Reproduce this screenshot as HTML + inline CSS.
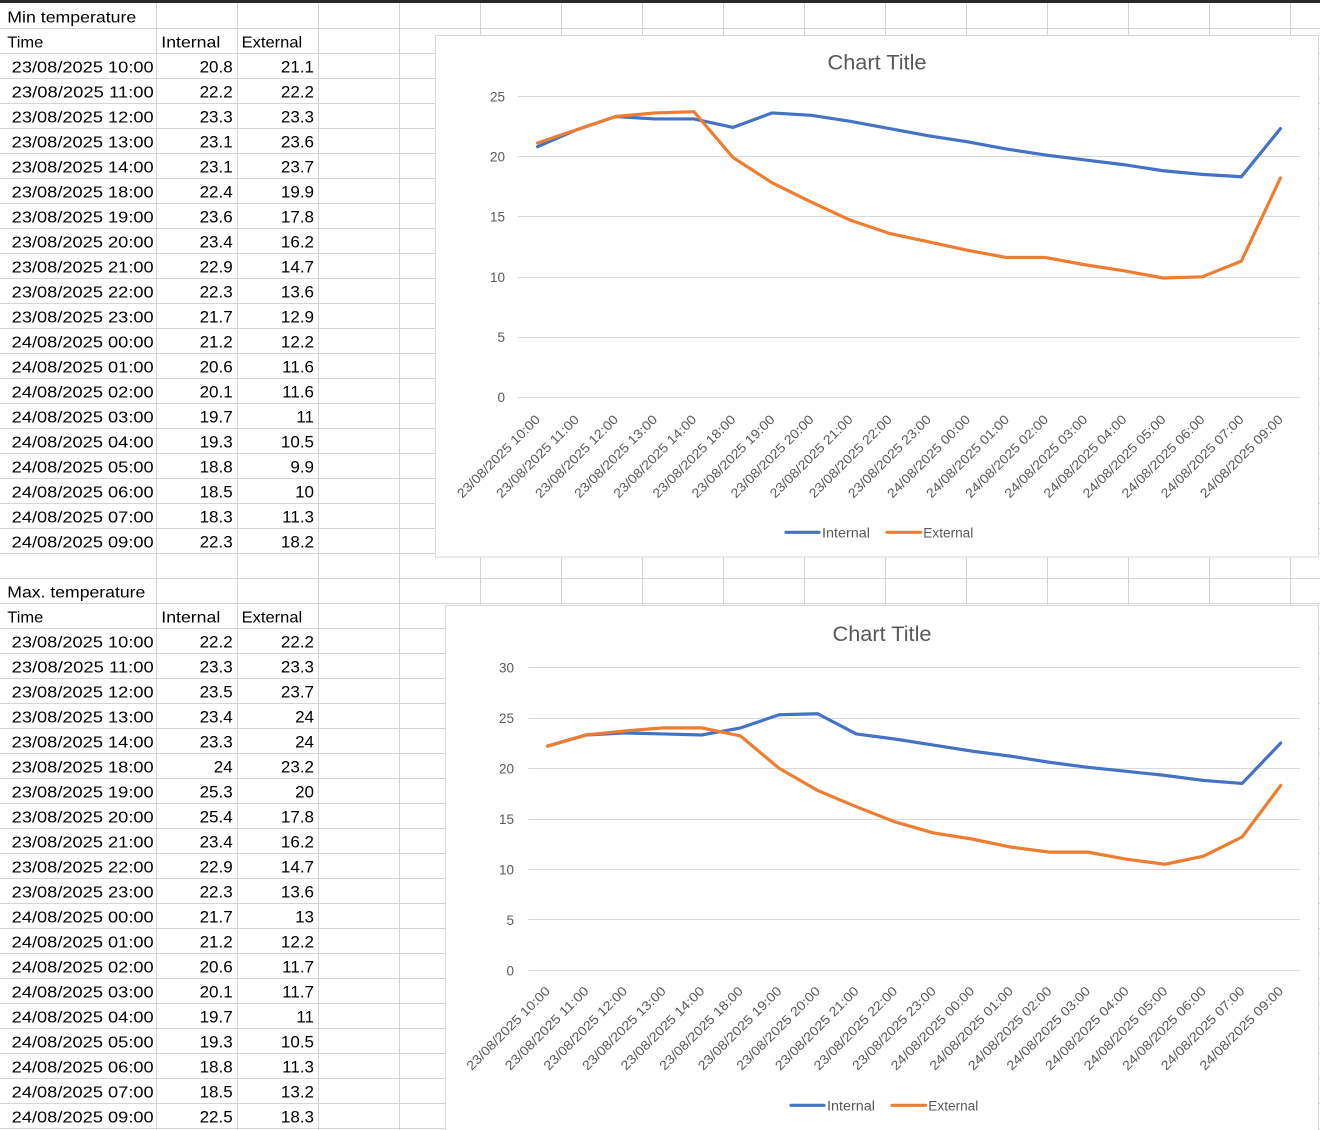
<!DOCTYPE html>
<html><head><meta charset="utf-8"><style>
html,body{margin:0;padding:0;background:#fff;overflow:hidden;}
svg{display:block;font-family:"Liberation Sans",Arial,sans-serif;}
</style></head><body>
<svg width="1320" height="1130" viewBox="0 0 1320 1130" xmlns="http://www.w3.org/2000/svg">
<defs>
<pattern id="ph" patternUnits="userSpaceOnUse" x="0" y="4" width="1320" height="25"><rect x="0" y="24" width="1320" height="1" fill="#d4d4d4"/></pattern>
<pattern id="pv" patternUnits="userSpaceOnUse" x="157" y="0" width="81" height="1130"><rect x="80" y="0" width="1" height="1130" fill="#d4d4d4"/></pattern>
</defs>
<rect x="0" y="0" width="1320" height="1130" fill="#fff"/>
<rect x="0" y="4" width="1320" height="1126" fill="url(#ph)"/>
<rect x="156" y="3" width="1164" height="1127" fill="url(#pv)"/>
<rect x="0" y="0" width="1320" height="3" fill="#2a2a2a"/>

<!-- Table text -->
<g font-size="16" fill="#000">
<text x="7.3" y="22.3" textLength="129" lengthAdjust="spacingAndGlyphs">Min temperature</text>
<text x="7.3" y="47.3" textLength="36" lengthAdjust="spacingAndGlyphs">Time</text>
<text x="161.3" y="47.3" textLength="59" lengthAdjust="spacingAndGlyphs">Internal</text>
<text x="241.7" y="47.3" textLength="60.5" lengthAdjust="spacingAndGlyphs">External</text>
<text x="7.3" y="597.3" textLength="138" lengthAdjust="spacingAndGlyphs">Max. temperature</text>
<text x="7.3" y="622.3" textLength="36" lengthAdjust="spacingAndGlyphs">Time</text>
<text x="161.3" y="622.3" textLength="59" lengthAdjust="spacingAndGlyphs">Internal</text>
<text x="241.7" y="622.3" textLength="60.5" lengthAdjust="spacingAndGlyphs">External</text>
</g>
<g font-size="16" fill="#000">
<text x="11.7" y="72.3" textLength="142" lengthAdjust="spacingAndGlyphs">23/08/2025 10:00</text>
<text x="11.7" y="97.3" textLength="142" lengthAdjust="spacingAndGlyphs">23/08/2025 11:00</text>
<text x="11.7" y="122.3" textLength="142" lengthAdjust="spacingAndGlyphs">23/08/2025 12:00</text>
<text x="11.7" y="147.3" textLength="142" lengthAdjust="spacingAndGlyphs">23/08/2025 13:00</text>
<text x="11.7" y="172.3" textLength="142" lengthAdjust="spacingAndGlyphs">23/08/2025 14:00</text>
<text x="11.7" y="197.3" textLength="142" lengthAdjust="spacingAndGlyphs">23/08/2025 18:00</text>
<text x="11.7" y="222.3" textLength="142" lengthAdjust="spacingAndGlyphs">23/08/2025 19:00</text>
<text x="11.7" y="247.3" textLength="142" lengthAdjust="spacingAndGlyphs">23/08/2025 20:00</text>
<text x="11.7" y="272.3" textLength="142" lengthAdjust="spacingAndGlyphs">23/08/2025 21:00</text>
<text x="11.7" y="297.3" textLength="142" lengthAdjust="spacingAndGlyphs">23/08/2025 22:00</text>
<text x="11.7" y="322.3" textLength="142" lengthAdjust="spacingAndGlyphs">23/08/2025 23:00</text>
<text x="11.7" y="347.3" textLength="142" lengthAdjust="spacingAndGlyphs">24/08/2025 00:00</text>
<text x="11.7" y="372.3" textLength="142" lengthAdjust="spacingAndGlyphs">24/08/2025 01:00</text>
<text x="11.7" y="397.3" textLength="142" lengthAdjust="spacingAndGlyphs">24/08/2025 02:00</text>
<text x="11.7" y="422.3" textLength="142" lengthAdjust="spacingAndGlyphs">24/08/2025 03:00</text>
<text x="11.7" y="447.3" textLength="142" lengthAdjust="spacingAndGlyphs">24/08/2025 04:00</text>
<text x="11.7" y="472.3" textLength="142" lengthAdjust="spacingAndGlyphs">24/08/2025 05:00</text>
<text x="11.7" y="497.3" textLength="142" lengthAdjust="spacingAndGlyphs">24/08/2025 06:00</text>
<text x="11.7" y="522.3" textLength="142" lengthAdjust="spacingAndGlyphs">24/08/2025 07:00</text>
<text x="11.7" y="547.3" textLength="142" lengthAdjust="spacingAndGlyphs">24/08/2025 09:00</text>

<text x="11.7" y="647.3" textLength="142" lengthAdjust="spacingAndGlyphs">23/08/2025 10:00</text>
<text x="11.7" y="672.3" textLength="142" lengthAdjust="spacingAndGlyphs">23/08/2025 11:00</text>
<text x="11.7" y="697.3" textLength="142" lengthAdjust="spacingAndGlyphs">23/08/2025 12:00</text>
<text x="11.7" y="722.3" textLength="142" lengthAdjust="spacingAndGlyphs">23/08/2025 13:00</text>
<text x="11.7" y="747.3" textLength="142" lengthAdjust="spacingAndGlyphs">23/08/2025 14:00</text>
<text x="11.7" y="772.3" textLength="142" lengthAdjust="spacingAndGlyphs">23/08/2025 18:00</text>
<text x="11.7" y="797.3" textLength="142" lengthAdjust="spacingAndGlyphs">23/08/2025 19:00</text>
<text x="11.7" y="822.3" textLength="142" lengthAdjust="spacingAndGlyphs">23/08/2025 20:00</text>
<text x="11.7" y="847.3" textLength="142" lengthAdjust="spacingAndGlyphs">23/08/2025 21:00</text>
<text x="11.7" y="872.3" textLength="142" lengthAdjust="spacingAndGlyphs">23/08/2025 22:00</text>
<text x="11.7" y="897.3" textLength="142" lengthAdjust="spacingAndGlyphs">23/08/2025 23:00</text>
<text x="11.7" y="922.3" textLength="142" lengthAdjust="spacingAndGlyphs">24/08/2025 00:00</text>
<text x="11.7" y="947.3" textLength="142" lengthAdjust="spacingAndGlyphs">24/08/2025 01:00</text>
<text x="11.7" y="972.3" textLength="142" lengthAdjust="spacingAndGlyphs">24/08/2025 02:00</text>
<text x="11.7" y="997.3" textLength="142" lengthAdjust="spacingAndGlyphs">24/08/2025 03:00</text>
<text x="11.7" y="1022.3" textLength="142" lengthAdjust="spacingAndGlyphs">24/08/2025 04:00</text>
<text x="11.7" y="1047.3" textLength="142" lengthAdjust="spacingAndGlyphs">24/08/2025 05:00</text>
<text x="11.7" y="1072.3" textLength="142" lengthAdjust="spacingAndGlyphs">24/08/2025 06:00</text>
<text x="11.7" y="1097.3" textLength="142" lengthAdjust="spacingAndGlyphs">24/08/2025 07:00</text>
<text x="11.7" y="1122.3" textLength="142" lengthAdjust="spacingAndGlyphs">24/08/2025 09:00</text>
</g>

<g font-size="17" fill="#000" text-anchor="end">
<text x="232.7" y="72.3">20.8</text><text x="314" y="72.3">21.1</text>
<text x="232.7" y="97.3">22.2</text><text x="314" y="97.3">22.2</text>
<text x="232.7" y="122.3">23.3</text><text x="314" y="122.3">23.3</text>
<text x="232.7" y="147.3">23.1</text><text x="314" y="147.3">23.6</text>
<text x="232.7" y="172.3">23.1</text><text x="314" y="172.3">23.7</text>
<text x="232.7" y="197.3">22.4</text><text x="314" y="197.3">19.9</text>
<text x="232.7" y="222.3">23.6</text><text x="314" y="222.3">17.8</text>
<text x="232.7" y="247.3">23.4</text><text x="314" y="247.3">16.2</text>
<text x="232.7" y="272.3">22.9</text><text x="314" y="272.3">14.7</text>
<text x="232.7" y="297.3">22.3</text><text x="314" y="297.3">13.6</text>
<text x="232.7" y="322.3">21.7</text><text x="314" y="322.3">12.9</text>
<text x="232.7" y="347.3">21.2</text><text x="314" y="347.3">12.2</text>
<text x="232.7" y="372.3">20.6</text><text x="314" y="372.3">11.6</text>
<text x="232.7" y="397.3">20.1</text><text x="314" y="397.3">11.6</text>
<text x="232.7" y="422.3">19.7</text><text x="314" y="422.3">11</text>
<text x="232.7" y="447.3">19.3</text><text x="314" y="447.3">10.5</text>
<text x="232.7" y="472.3">18.8</text><text x="314" y="472.3">9.9</text>
<text x="232.7" y="497.3">18.5</text><text x="314" y="497.3">10</text>
<text x="232.7" y="522.3">18.3</text><text x="314" y="522.3">11.3</text>
<text x="232.7" y="547.3">22.3</text><text x="314" y="547.3">18.2</text>

<text x="232.7" y="647.3">22.2</text><text x="314" y="647.3">22.2</text>
<text x="232.7" y="672.3">23.3</text><text x="314" y="672.3">23.3</text>
<text x="232.7" y="697.3">23.5</text><text x="314" y="697.3">23.7</text>
<text x="232.7" y="722.3">23.4</text><text x="314" y="722.3">24</text>
<text x="232.7" y="747.3">23.3</text><text x="314" y="747.3">24</text>
<text x="232.7" y="772.3">24</text><text x="314" y="772.3">23.2</text>
<text x="232.7" y="797.3">25.3</text><text x="314" y="797.3">20</text>
<text x="232.7" y="822.3">25.4</text><text x="314" y="822.3">17.8</text>
<text x="232.7" y="847.3">23.4</text><text x="314" y="847.3">16.2</text>
<text x="232.7" y="872.3">22.9</text><text x="314" y="872.3">14.7</text>
<text x="232.7" y="897.3">22.3</text><text x="314" y="897.3">13.6</text>
<text x="232.7" y="922.3">21.7</text><text x="314" y="922.3">13</text>
<text x="232.7" y="947.3">21.2</text><text x="314" y="947.3">12.2</text>
<text x="232.7" y="972.3">20.6</text><text x="314" y="972.3">11.7</text>
<text x="232.7" y="997.3">20.1</text><text x="314" y="997.3">11.7</text>
<text x="232.7" y="1022.3">19.7</text><text x="314" y="1022.3">11</text>
<text x="232.7" y="1047.3">19.3</text><text x="314" y="1047.3">10.5</text>
<text x="232.7" y="1072.3">18.8</text><text x="314" y="1072.3">11.3</text>
<text x="232.7" y="1097.3">18.5</text><text x="314" y="1097.3">13.2</text>
<text x="232.7" y="1122.3">22.5</text><text x="314" y="1122.3">18.3</text>
</g>

<!-- ===== Chart 1 ===== -->
<rect x="435.5" y="35.5" width="883" height="521.5" fill="#fff" stroke="#d9d9d9" stroke-width="1"/>
<text x="877" y="69.3" font-size="21" fill="#595959" text-anchor="middle" textLength="99" lengthAdjust="spacingAndGlyphs">Chart Title</text>
<g stroke="#d9d9d9" stroke-width="1">
<line x1="518" y1="96.5" x2="1300" y2="96.5"/>
<line x1="518" y1="156.5" x2="1300" y2="156.5"/>
<line x1="518" y1="216.5" x2="1300" y2="216.5"/>
<line x1="518" y1="277.5" x2="1300" y2="277.5"/>
<line x1="518" y1="337.5" x2="1300" y2="337.5"/>
<line x1="518" y1="397.5" x2="1300" y2="397.5"/>
</g>
<g font-size="13.5" fill="#595959" text-anchor="end">
<text x="505" y="101.4">25</text>
<text x="505" y="161.4">20</text>
<text x="505" y="221.4">15</text>
<text x="505" y="282">10</text>
<text x="505" y="342">5</text>
<text x="505" y="402">0</text>
</g>
<g font-size="13" fill="#595959" text-anchor="end">
<text transform="translate(540.85,420.3) rotate(-45)" textLength="111" lengthAdjust="spacingAndGlyphs">23/08/2025 10:00</text>
<text transform="translate(579.95,420.3) rotate(-45)" textLength="111" lengthAdjust="spacingAndGlyphs">23/08/2025 11:00</text>
<text transform="translate(619.05,420.3) rotate(-45)" textLength="111" lengthAdjust="spacingAndGlyphs">23/08/2025 12:00</text>
<text transform="translate(658.15,420.3) rotate(-45)" textLength="111" lengthAdjust="spacingAndGlyphs">23/08/2025 13:00</text>
<text transform="translate(697.25,420.3) rotate(-45)" textLength="111" lengthAdjust="spacingAndGlyphs">23/08/2025 14:00</text>
<text transform="translate(736.35,420.3) rotate(-45)" textLength="111" lengthAdjust="spacingAndGlyphs">23/08/2025 18:00</text>
<text transform="translate(775.45,420.3) rotate(-45)" textLength="111" lengthAdjust="spacingAndGlyphs">23/08/2025 19:00</text>
<text transform="translate(814.55,420.3) rotate(-45)" textLength="111" lengthAdjust="spacingAndGlyphs">23/08/2025 20:00</text>
<text transform="translate(853.65,420.3) rotate(-45)" textLength="111" lengthAdjust="spacingAndGlyphs">23/08/2025 21:00</text>
<text transform="translate(892.75,420.3) rotate(-45)" textLength="111" lengthAdjust="spacingAndGlyphs">23/08/2025 22:00</text>
<text transform="translate(931.85,420.3) rotate(-45)" textLength="111" lengthAdjust="spacingAndGlyphs">23/08/2025 23:00</text>
<text transform="translate(970.95,420.3) rotate(-45)" textLength="111" lengthAdjust="spacingAndGlyphs">24/08/2025 00:00</text>
<text transform="translate(1010.05,420.3) rotate(-45)" textLength="111" lengthAdjust="spacingAndGlyphs">24/08/2025 01:00</text>
<text transform="translate(1049.15,420.3) rotate(-45)" textLength="111" lengthAdjust="spacingAndGlyphs">24/08/2025 02:00</text>
<text transform="translate(1088.25,420.3) rotate(-45)" textLength="111" lengthAdjust="spacingAndGlyphs">24/08/2025 03:00</text>
<text transform="translate(1127.35,420.3) rotate(-45)" textLength="111" lengthAdjust="spacingAndGlyphs">24/08/2025 04:00</text>
<text transform="translate(1166.45,420.3) rotate(-45)" textLength="111" lengthAdjust="spacingAndGlyphs">24/08/2025 05:00</text>
<text transform="translate(1205.55,420.3) rotate(-45)" textLength="111" lengthAdjust="spacingAndGlyphs">24/08/2025 06:00</text>
<text transform="translate(1244.65,420.3) rotate(-45)" textLength="111" lengthAdjust="spacingAndGlyphs">24/08/2025 07:00</text>
<text transform="translate(1283.75,420.3) rotate(-45)" textLength="111" lengthAdjust="spacingAndGlyphs">24/08/2025 09:00</text>
</g>
<polyline fill="none" stroke="#4472C4" stroke-width="3.2" stroke-linejoin="round" stroke-linecap="round"
points="537.55,146.66 576.65,129.79 615.75,116.53 654.85,118.94 693.95,118.94 733.05,127.38 772.15,112.92 811.25,115.33 850.35,121.35 889.45,128.58 928.55,135.81 967.65,141.84 1006.75,149.07 1045.85,155.09 1084.95,159.91 1124.05,164.73 1163.15,170.76 1202.25,174.37 1241.35,176.78 1280.45,128.58"/>
<polyline fill="none" stroke="#ED7D31" stroke-width="3.2" stroke-linejoin="round" stroke-linecap="round"
points="537.55,143.04 576.65,129.79 615.75,116.53 654.85,112.92 693.95,111.71 733.05,157.5 772.15,182.81 811.25,202.09 850.35,220.16 889.45,233.42 928.55,241.85 967.65,250.29 1006.75,257.52 1045.85,257.52 1084.95,264.75 1124.05,270.77 1163.15,278.0 1202.25,276.8 1241.35,261.13 1280.45,177.99"/>
<line x1="786" y1="532.3" x2="819" y2="532.3" stroke="#4472C4" stroke-width="3.2" stroke-linecap="round"/>
<text x="822" y="537.3" font-size="13.5" fill="#595959" textLength="48" lengthAdjust="spacingAndGlyphs">Internal</text>
<line x1="887" y1="532.3" x2="920.5" y2="532.3" stroke="#ED7D31" stroke-width="3.2" stroke-linecap="round"/>
<text x="923.3" y="537.3" font-size="13.5" fill="#595959" textLength="50" lengthAdjust="spacingAndGlyphs">External</text>

<!-- ===== Chart 2 ===== -->
<rect x="445.5" y="605.5" width="873" height="530" fill="#fff" stroke="#d9d9d9" stroke-width="1"/>
<text x="882" y="641" font-size="21" fill="#595959" text-anchor="middle" textLength="99" lengthAdjust="spacingAndGlyphs">Chart Title</text>
<g stroke="#d9d9d9" stroke-width="1">
<line x1="528.3" y1="667.5" x2="1300" y2="667.5"/>
<line x1="528.3" y1="718.5" x2="1300" y2="718.5"/>
<line x1="528.3" y1="768.5" x2="1300" y2="768.5"/>
<line x1="528.3" y1="819.5" x2="1300" y2="819.5"/>
<line x1="528.3" y1="869.5" x2="1300" y2="869.5"/>
<line x1="528.3" y1="919.5" x2="1300" y2="919.5"/>
<line x1="528.3" y1="970.5" x2="1300" y2="970.5"/>
</g>
<g font-size="13.5" fill="#595959" text-anchor="end">
<text x="514" y="672.7">30</text>
<text x="514" y="723.2">25</text>
<text x="514" y="773.7">20</text>
<text x="514" y="824.2">15</text>
<text x="514" y="874.7">10</text>
<text x="514" y="925.2">5</text>
<text x="514" y="975.7">0</text>
</g>
<g font-size="13" fill="#595959" text-anchor="end">
<text transform="translate(550.9,991.8) rotate(-45)" textLength="112" lengthAdjust="spacingAndGlyphs">23/08/2025 10:00</text>
<text transform="translate(589.49,991.8) rotate(-45)" textLength="112" lengthAdjust="spacingAndGlyphs">23/08/2025 11:00</text>
<text transform="translate(628.07,991.8) rotate(-45)" textLength="112" lengthAdjust="spacingAndGlyphs">23/08/2025 12:00</text>
<text transform="translate(666.66,991.8) rotate(-45)" textLength="112" lengthAdjust="spacingAndGlyphs">23/08/2025 13:00</text>
<text transform="translate(705.24,991.8) rotate(-45)" textLength="112" lengthAdjust="spacingAndGlyphs">23/08/2025 14:00</text>
<text transform="translate(743.83,991.8) rotate(-45)" textLength="112" lengthAdjust="spacingAndGlyphs">23/08/2025 18:00</text>
<text transform="translate(782.41,991.8) rotate(-45)" textLength="112" lengthAdjust="spacingAndGlyphs">23/08/2025 19:00</text>
<text transform="translate(821.0,991.8) rotate(-45)" textLength="112" lengthAdjust="spacingAndGlyphs">23/08/2025 20:00</text>
<text transform="translate(859.58,991.8) rotate(-45)" textLength="112" lengthAdjust="spacingAndGlyphs">23/08/2025 21:00</text>
<text transform="translate(898.17,991.8) rotate(-45)" textLength="112" lengthAdjust="spacingAndGlyphs">23/08/2025 22:00</text>
<text transform="translate(936.75,991.8) rotate(-45)" textLength="112" lengthAdjust="spacingAndGlyphs">23/08/2025 23:00</text>
<text transform="translate(975.34,991.8) rotate(-45)" textLength="112" lengthAdjust="spacingAndGlyphs">24/08/2025 00:00</text>
<text transform="translate(1013.92,991.8) rotate(-45)" textLength="112" lengthAdjust="spacingAndGlyphs">24/08/2025 01:00</text>
<text transform="translate(1052.51,991.8) rotate(-45)" textLength="112" lengthAdjust="spacingAndGlyphs">24/08/2025 02:00</text>
<text transform="translate(1091.09,991.8) rotate(-45)" textLength="112" lengthAdjust="spacingAndGlyphs">24/08/2025 03:00</text>
<text transform="translate(1129.68,991.8) rotate(-45)" textLength="112" lengthAdjust="spacingAndGlyphs">24/08/2025 04:00</text>
<text transform="translate(1168.26,991.8) rotate(-45)" textLength="112" lengthAdjust="spacingAndGlyphs">24/08/2025 05:00</text>
<text transform="translate(1206.85,991.8) rotate(-45)" textLength="112" lengthAdjust="spacingAndGlyphs">24/08/2025 06:00</text>
<text transform="translate(1245.43,991.8) rotate(-45)" textLength="112" lengthAdjust="spacingAndGlyphs">24/08/2025 07:00</text>
<text transform="translate(1284.02,991.8) rotate(-45)" textLength="112" lengthAdjust="spacingAndGlyphs">24/08/2025 09:00</text>
</g>
<polyline fill="none" stroke="#4472C4" stroke-width="3.2" stroke-linejoin="round" stroke-linecap="round"
points="547.6,746.08 586.19,734.97 624.77,732.95 663.36,733.96 701.94,734.97 740.53,727.9 779.11,714.77 817.7,713.76 856.28,733.96 894.87,739.01 933.45,745.07 972.04,751.13 1010.62,756.18 1049.21,762.24 1087.79,767.29 1126.38,771.33 1164.96,775.37 1203.55,780.42 1242.13,783.45 1280.72,743.05"/>
<polyline fill="none" stroke="#ED7D31" stroke-width="3.2" stroke-linejoin="round" stroke-linecap="round"
points="547.6,746.08 586.19,734.97 624.77,730.93 663.36,727.9 701.94,727.9 740.53,735.98 779.11,768.3 817.7,790.52 856.28,806.68 894.87,821.83 933.45,832.94 972.04,839.0 1010.62,847.08 1049.21,852.13 1087.79,852.13 1126.38,859.2 1164.96,864.25 1203.55,856.17 1242.13,836.98 1280.72,785.47"/>
<line x1="791" y1="1105.3" x2="824" y2="1105.3" stroke="#4472C4" stroke-width="3.2" stroke-linecap="round"/>
<text x="827" y="1110.3" font-size="13.5" fill="#595959" textLength="48" lengthAdjust="spacingAndGlyphs">Internal</text>
<line x1="892" y1="1105.3" x2="925.5" y2="1105.3" stroke="#ED7D31" stroke-width="3.2" stroke-linecap="round"/>
<text x="928.3" y="1110.3" font-size="13.5" fill="#595959" textLength="50" lengthAdjust="spacingAndGlyphs">External</text>
</svg>
</body></html>
